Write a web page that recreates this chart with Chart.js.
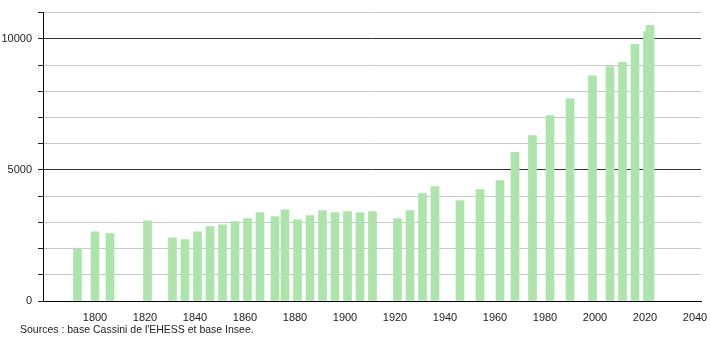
<!DOCTYPE html>
<html>
<head>
<meta charset="utf-8">
<script src="https://cdn.jsdelivr.net/npm/chart.js@4/dist/chart.umd.min.js"></script>
<style>
  html, body { margin: 0; padding: 0; background: #fff; }
  #wrap { position: relative; width: 710px; height: 340px; }
  #src { position: absolute; left: 20px; top: 322px; font-family: "Liberation Sans", Arial, sans-serif; font-size: 10.5px; color: #222; line-height: 14px; white-space: nowrap; }
</style>
</head>
<body>
<div id="wrap">
  <canvas id="c" width="710" height="340"></canvas>
  <div id="src">Sources : base Cassini de l'EHESS et base Insee.</div>
</div>
<script>
const years = [1793, 1800, 1806, 1821, 1831, 1836, 1841, 1846, 1851, 1856, 1861, 1866, 1872, 1876, 1881, 1886, 1891, 1896, 1901, 1906, 1911, 1921, 1926, 1931, 1936, 1946, 1954, 1962, 1968, 1975, 1982, 1990, 1999, 2006, 2011, 2016, 2021, 2022];
const population = [1985, 2640, 2570, 3060, 2410, 2340, 2640, 2840, 2910, 3030, 3140, 3370, 3220, 3480, 3100, 3260, 3450, 3370, 3410, 3370, 3410, 3140, 3450, 4100, 4360, 3830, 4250, 4590, 5670, 6310, 7070, 7710, 8590, 8940, 9100, 9790, 10280, 10510];
const xTickLabels = [1800, 1820, 1840, 1860, 1880, 1900, 1920, 1940, 1960, 1980, 2000, 2020, 2040];
const yTickLabels = [0, 5000, 10000];

const font = { family: "'Liberation Sans', Arial, sans-serif", size: 11 };

new Chart(document.getElementById('c'), {
  type: 'bar',
  data: {
    datasets: [{
      data: years.map((y, i) => ({ x: y, y: population[i] })),
      backgroundColor: '#ace4ac',
      borderWidth: 0,
      barThickness: 8
    }]
  },
  options: {
    responsive: false,
    devicePixelRatio: 1,
    animation: false,
    layout: { padding: { left: 0, right: 9, top: 10, bottom: 19 } },
    plugins: { legend: { display: false }, tooltip: { enabled: false } },
    scales: {
      x: {
        type: 'linear',
        offset: false,
        min: 1779.2,
        max: 2042.4,
        grid: { display: false, offset: false },
        border: { display: true, color: '#000', width: 1 },
        afterBuildTicks: (s) => { s.ticks = xTickLabels.map(v => ({ value: v })); },
        afterFit: (s) => { s.height = 20; },
        ticks: { font, color: '#222', padding: 2, maxRotation: 0, autoSkip: false, callback: (v) => String(v) }
      },
      y: {
        min: 0,
        max: 11000,
        afterFit: (s) => { s.width = 43; },
        grid: {
          color: (ctx) => (ctx.tick && ctx.tick.value % 5000 === 0 ? '#333' : '#c8c8c8'),
          tickColor: '#222',
          tickLength: 5,
          lineWidth: 1
        },
        border: { display: true, color: '#000', width: 1 },
        ticks: {
          stepSize: 1000,
          font, color: '#222', padding: 6,
          callback: (v) => (yTickLabels.includes(v) ? String(v) : '')
        }
      }
    }
  }
});
</script>
</body>
</html>
